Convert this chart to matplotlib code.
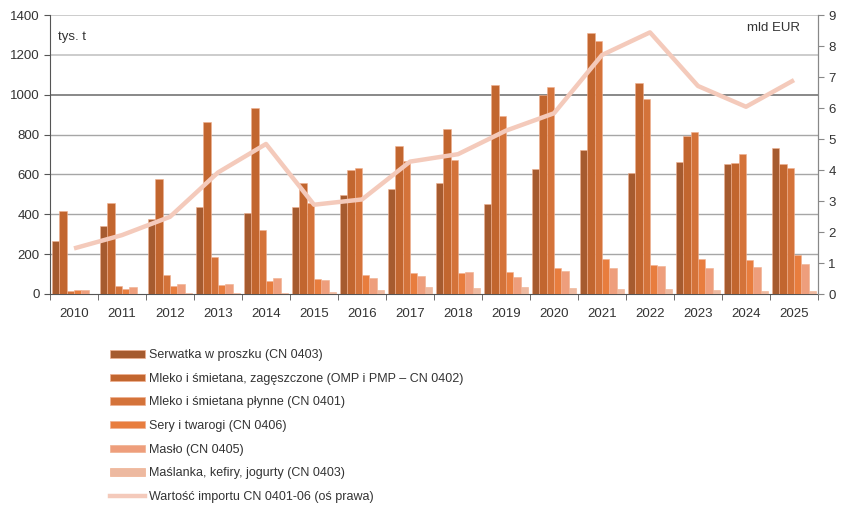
import numpy as np
import matplotlib.pyplot as plt
from matplotlib.patches import Patch
from matplotlib.lines import Line2D

plt.rcParams['font.family'] = ['Liberation Sans', 'DejaVu Sans']

years = [str(y) for y in range(2010, 2026)]

# tys. t
serwatka = [264, 343, 378, 435, 405, 435, 495, 528, 557, 453, 625, 721, 605, 662, 650, 734]
mleko_zag = [416, 455, 577, 863, 931, 557, 622, 742, 829, 1048, 1000, 1309, 1059, 794, 656, 650]
mleko_plyn = [15, 40, 94, 184, 319, 458, 634, 666, 672, 891, 1040, 1268, 977, 813, 704, 634]
sery = [22, 27, 38, 45, 64, 74, 95, 107, 105, 112, 129, 176, 144, 177, 172, 196]
maslo = [22, 35, 48, 50, 80, 69, 80, 90, 112, 85, 115, 130, 142, 129, 135, 150]
maslanka = [2, 1, 7, 7, 3, 8, 20, 33, 30, 33, 28, 25, 23, 20, 17, 17]

# mld EUR
wartosc = [1.47, 1.90, 2.49, 3.92, 4.84, 2.88, 3.05, 4.27, 4.51, 5.27, 5.83, 7.71, 8.44, 6.71, 6.04, 6.90]

labels = [
    'Serwatka w proszku (CN 0403)',
    'Mleko i śmietana, zagęszczone (OMP i PMP – CN 0402)',
    'Mleko i śmietana płynne (CN 0401)',
    'Sery i twarogi (CN 0406)',
    'Masło (CN 0405)',
    'Maślanka, kefiry, jogurty (CN 0403)',
]
line_label = 'Wartość importu CN 0401-06 (oś prawa)'
colors = ['#A65B2F', '#C2662F', '#D4733A', '#E87D3E', '#EE9E7C', '#EDB9A0']
line_color = '#F4CABB'
text_color = '#333333'

series = [serwatka, mleko_zag, mleko_plyn, sery, maslo, maslanka]

fig = plt.figure(figsize=(8.48, 5.09), dpi=100)
ax = fig.add_axes([50 / 848, 1 - 294 / 509, 768 / 848, 279 / 509])

x = np.arange(len(years))
bw = 0.152
offsets = (np.arange(6) - 2.5) * bw
for i, (vals, c) in enumerate(zip(series, colors)):
    ax.bar(x + offsets[i], vals, width=bw, color=c, edgecolor='#F0B090',
           linewidth=0.4, zorder=3)

ax.set_xlim(-0.5, len(years) - 0.5)
ax.set_ylim(0, 1400)
ax.set_yticks(range(0, 1401, 200))
ax.set_xticks(x)
ax.set_xticklabels(years)
ax.set_xticks(np.arange(-0.5, len(years)), minor=True)
ax.tick_params(axis='x', which='major', length=0, pad=10, labelsize=9.5, colors=text_color)
ax.tick_params(axis='x', which='minor', length=4, color='#555555', direction='out')
ax.tick_params(axis='y', length=4, color='#555555', labelsize=9.5, colors=text_color)

for v in range(200, 1401, 200):
    if v == 1000:
        gc, gw = '#7F7F7F', 1.3
    elif v >= 1200:
        gc, gw = '#C8C8C8', 1.3
    else:
        gc, gw = '#A6A6A6', 1.0
    ax.axhline(v, color=gc, linewidth=gw, zorder=1)

ax.spines['top'].set_visible(False)
ax.spines['left'].set_color('#555555')
ax.spines['right'].set_color('#888888')
ax.spines['bottom'].set_color('#555555')

ax2 = ax.twinx()
ax2.plot(x, wartosc, color=line_color, linewidth=3.2, zorder=4, solid_capstyle='butt')
ax2.set_ylim(0, 9)
ax2.set_yticks(range(0, 10))
ax2.tick_params(axis='y', length=4, color='#888888', labelsize=9.5, colors=text_color)
ax2.spines['top'].set_visible(False)
ax2.spines['right'].set_color('#888888')
ax2.spines['left'].set_visible(False)
ax2.spines['bottom'].set_visible(False)

ax.text(0.011, 0.92, 'tys. t', transform=ax.transAxes, fontsize=9.5, color=text_color,
        va='center', ha='left')
ax.text(0.977, 0.955, 'mld EUR', transform=ax.transAxes, fontsize=9.5, color=text_color,
        va='center', ha='right')

handles = [Patch(facecolor=c, edgecolor='#F0B090', linewidth=0.5) for c in colors]
handles.append(Line2D([0], [0], color=line_color, linewidth=3.2))
fig.legend(handles, labels + [line_label], loc='upper left',
           bbox_to_anchor=(99 / 848, 1 - 338 / 509), frameon=False,
           fontsize=9, handlelength=2.8, handleheight=0.55, handletextpad=0.3,
           labelspacing=0.93, labelcolor=text_color)

fig.savefig('out.png', dpi=100)
